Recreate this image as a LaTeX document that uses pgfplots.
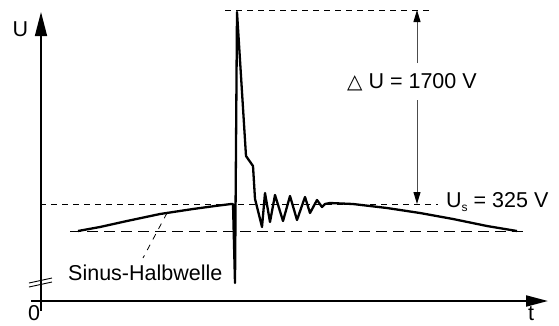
\documentclass[border=0pt]{standalone}
\usepackage{pgfplots}
\pgfplotsset{compat=1.18}
\usepackage{fontspec}
\setmainfont{Liberation Sans}
\newfontfamily\dejavu{DejaVu Sans}
\usetikzlibrary{arrows.meta}
\begin{document}
\begin{tikzpicture}
\begin{axis}[
  x=1pt, y=1pt, xmin=0, xmax=559, ymin=0, ymax=325, y dir=reverse,
  hide axis, clip=false,
]
% axes
\draw[line width=2pt, -{Triangle[length=22pt,width=11pt]}] (axis cs:31,301) -- (axis cs:548,301);
\draw[line width=1.5pt, -{Triangle[length=24pt,width=12pt]}] (axis cs:41,311) -- (axis cs:41,12);
% axis break
\draw[line width=0.9pt] (axis cs:29,283) -- (axis cs:52,278);
\draw[line width=0.9pt] (axis cs:29,287) -- (axis cs:52,282);
% dashed reference lines
\draw[line width=0.9pt, dash pattern=on 6pt off 5pt] (axis cs:225,10) -- (axis cs:433,10);
\draw[line width=0.9pt, dash pattern=on 6pt off 5pt] (axis cs:40,204) -- (axis cs:438,204);
\draw[line width=0.9pt, dash pattern=on 11pt off 6pt] (axis cs:70,231) -- (axis cs:528,231);
% leader
\draw[line width=0.8pt, dash pattern=on 6pt off 6pt] (axis cs:167,213) -- (axis cs:143,258);
% Delta U arrow
\draw[line width=1pt, gray!60!black, -{Triangle[length=12pt,width=7pt,color=black]}] (axis cs:417,63) -- (axis cs:417,10);
\draw[line width=1pt, gray!60!black, -{Triangle[length=12pt,width=7pt,color=black]}] (axis cs:417,100) -- (axis cs:417,204);
% waveform
\addplot[black, line width=2.3pt, line join=round, mark=none] coordinates {
(78,231) (100,227) (127,221) (160,214) (193,209) (215,206) (231,204)
(233,204) (235,283) (237,12) (246,156) (253,166) (255,199)
(262,227) (265,193) (270,222) (275,195) (283,221) (290,196) (297,220)
(305,197) (310,213) (317,200) (322,207) (325,204) (330,203) (353,204)
(387,208) (420,213) (453,219) (487,226) (517,231)
};
% labels
\node[anchor=center, font=\fontsize{21.5}{24}\selectfont, inner sep=0pt] at (axis cs:20.5,29.5) {U};
\node[anchor=center, font=\fontsize{21.5}{24}\selectfont, inner sep=0pt] at (axis cs:34,313) {0};
\node[anchor=center, font=\fontsize{21.5}{24}\selectfont, inner sep=0pt] at (axis cs:531,314) {t};
\node[anchor=base west, font=\fontsize{21.5}{24}\selectfont, inner sep=0pt] at (axis cs:68,280) {Sinus-Halbwelle};
\node[anchor=base west, font=\fontsize{21.5}{24}\selectfont, inner sep=0pt] at (axis cs:347,88) {{\dejavu\fontsize{20}{20}\selectfont △} U = 1700 V};
\node[anchor=base west, font=\fontsize{21.5}{24}\selectfont, inner sep=0pt] at (axis cs:446,207) {U\raisebox{-4pt}{\fontsize{12}{12}\selectfont s} = 325 V};
\end{axis}
\pgfresetboundingbox
\path (current axis.south west) rectangle (current axis.north east);
\end{tikzpicture}
\end{document}
